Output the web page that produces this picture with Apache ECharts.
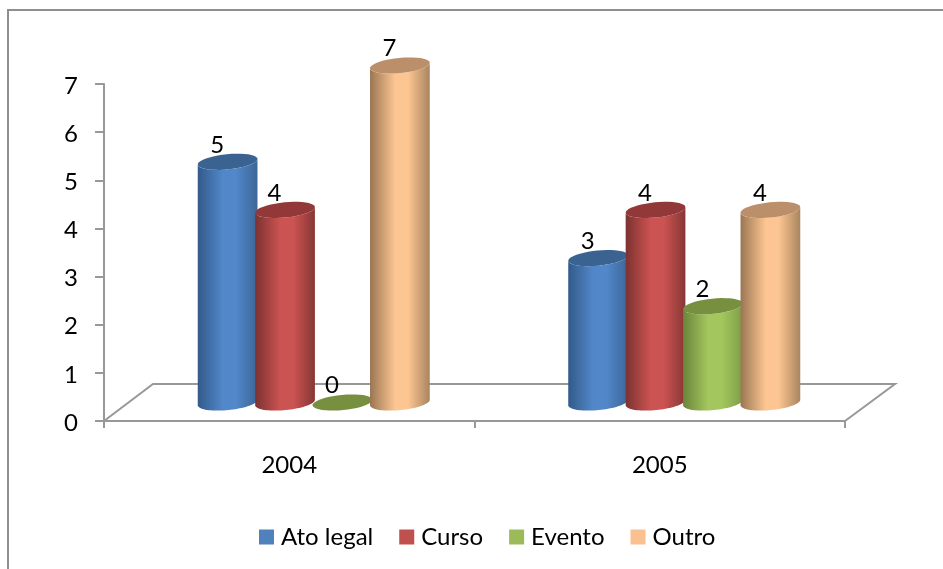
<!DOCTYPE html>
<html>
<head>
<meta charset="utf-8">
<title>Ato legal, Curso, Evento, Outro</title>
<script src="https://cdn.jsdelivr.net/npm/echarts@6/dist/echarts.min.js"></script>
<style>
  html, body { margin: 0; padding: 0; background: #fff; }
  #chart { width: 943px; height: 569px; }
</style>
</head>
<body>
<div id="chart"></div>
<script>
const years = ['2004', '2005'];
const seriesNames = ['Ato legal', 'Curso', 'Evento', 'Outro'];
const atoLegal = [5, 3];
const curso = [4, 4];
const evento = [0, 2];
const outro = [7, 4];
const yTicks = [0, 7];

const values = [atoLegal, curso, evento, outro];
const legendColors = ['#4f81bd', '#c0504d', '#9bbb59', '#fac090'];
// dark edge, light centre, right edge, top cap
const shades = [
  ['#325a8a', '#5287c9', '#3c6698', '#3b6391'],
  ['#7c3231', '#cb5351', '#863736', '#933838'],
  ['#6a853b', '#a3c75e', '#7f9e47', '#769040'],
  ['#9a7653', '#fcc591', '#a98560', '#bb8f6a']
];

const FONT = 'Lato, "Open Sans", sans-serif';
const FONT_SIZE = 24;
const AXIS_GRAY = '#989898';
const TEXT = '#000';

// the floor is pushed back from the axis plane
const DEPTH_X = 49;
const DEPTH_Y = -37;
const TILT = 5.6 * Math.PI / 180;

const chart = echarts.init(document.getElementById('chart'));

// points of a tilted ellipse between two angles
function ellipsePoints(cx, cy, rx, ry, from, to) {
  const pts = [];
  const steps = 40;
  for (let i = 0; i <= steps; i++) {
    const t = from + (to - from) * i / steps;
    const x = rx * Math.cos(t);
    const y = ry * Math.sin(t);
    pts.push([
      cx + x * Math.cos(TILT) + y * Math.sin(TILT),
      cy - x * Math.sin(TILT) + y * Math.cos(TILT)
    ]);
  }
  return pts;
}

function renderCylinder(seriesIndex) {
  return function (params, api) {
    const band = api.size([1, 0])[0];
    const step = band * 0.155;
    const rx = band * 0.081;
    const ry = 7.6;
    const value = api.value(1);
    const top = api.coord([api.value(0), value]);
    const base = api.coord([api.value(0), 0]);
    const cx = top[0] + DEPTH_X / 2 + (seriesIndex - 1.5) * step;
    const topY = top[1] + DEPTH_Y / 2;
    const baseY = base[1] + DEPTH_Y / 2;
    const s = shades[seriesIndex];
    const children = [];

    if (value > 0) {
      const front = ellipsePoints(cx, baseY, rx, ry, 0, Math.PI);
      const upper = ellipsePoints(cx, topY, rx, ry, Math.PI, 0);
      children.push({
        type: 'polygon',
        shape: { points: front.concat(upper) },
        style: {
          fill: new echarts.graphic.LinearGradient(0, 0, 1, 0, [
            { offset: 0, color: s[0] },
            { offset: 0.42, color: s[1] },
            { offset: 0.64, color: s[1] },
            { offset: 1, color: s[2] }
          ])
        }
      });
    }
    children.push({
      type: 'polygon',
      shape: { points: ellipsePoints(cx, topY, rx, ry, 0, Math.PI * 2) },
      style: { fill: s[3] }
    });
    children.push({
      type: 'text',
      x: cx - 10.5,
      y: topY - 17,
      style: {
        text: String(value),
        font: FONT_SIZE + 'px ' + FONT,
        fill: TEXT,
        align: 'center',
        verticalAlign: 'middle'
      }
    });
    return { type: 'group', children: children };
  };
}

// floor outline, tied to the grid rectangle
function renderFloor(params, api) {
  const sys = params.coordSys;
  const left = sys.x;
  const right = sys.x + sys.width;
  const front = sys.y + sys.height;
  const back = front + DEPTH_Y;
  return {
    type: 'polyline',
    shape: {
      points: [
        [left, front],
        [left + DEPTH_X, back],
        [right + DEPTH_X + 1, back],
        [right, front]
      ]
    },
    style: { stroke: AXIS_GRAY, lineWidth: 2, fill: 'none' }
  };
}

const series = [{
  type: 'custom',
  name: 'floor',
  silent: true,
  renderItem: renderFloor,
  data: [[0, 0]],
  encode: { x: 0, y: 1 },
  z: 1
}];

seriesNames.forEach((name, i) => {
  series.push({
    type: 'custom',
    name: name,
    renderItem: renderCylinder(i),
    itemStyle: { color: legendColors[i] },
    data: years.map((y, j) => [j, values[i][j]]),
    encode: { x: 0, y: 1 },
    z: 3
  });
});

const option = {
  animation: false,
  backgroundColor: '#fff',
  textStyle: { fontFamily: FONT },
  grid: { left: 104, top: 84, width: 741, height: 337, containLabel: false },
  graphic: [{
    type: 'polyline',
    silent: true,
    shape: { points: [[8, 569], [8, 10], [943, 10]] },
    style: { stroke: '#8e8e8e', lineWidth: 2, fill: 'none' }
  }],
  legend: {
    data: seriesNames,
    left: 254,
    top: 520,
    icon: 'rect',
    itemWidth: 15,
    itemHeight: 15,
    itemGap: 26,
    selectedMode: false,
    textStyle: { fontFamily: FONT, fontSize: FONT_SIZE, color: TEXT, padding: [0, 0, 0, 2] }
  },
  xAxis: {
    type: 'category',
    data: years,
    boundaryGap: true,
    axisLine: { show: true, onZero: false, lineStyle: { color: AXIS_GRAY, width: 2 } },
    axisTick: { show: true, length: 7, alignWithLabel: false, lineStyle: { color: AXIS_GRAY, width: 2 } },
    axisLabel: { fontFamily: FONT, fontSize: FONT_SIZE, color: TEXT, margin: 32 },
    splitLine: { show: false }
  },
  yAxis: {
    type: 'value',
    min: yTicks[0],
    max: yTicks[1],
    interval: 1,
    axisLine: { show: true, lineStyle: { color: AXIS_GRAY, width: 2 } },
    axisTick: { show: true, length: 9, lineStyle: { color: AXIS_GRAY, width: 2 } },
    axisLabel: {
      fontFamily: FONT,
      fontSize: FONT_SIZE,
      color: TEXT,
      margin: 26,
      formatter: '{n|{value}}',
      rich: { n: { fontFamily: FONT, fontSize: FONT_SIZE, color: TEXT, padding: [4, 0, 0, 0] } }
    },
    splitLine: { show: false }
  },
  series: series
};

chart.setOption(option);
window.addEventListener('resize', () => chart.resize());
</script>
</body>
</html>
